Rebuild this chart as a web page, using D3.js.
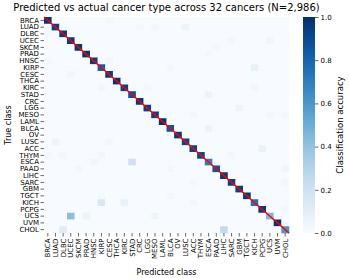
<!DOCTYPE html>
<html><head><meta charset="utf-8">
<script src="https://cdn.jsdelivr.net/npm/d3@7"></script>
<style>body{margin:0;background:#fff}svg{display:block}text{font-family:"DejaVu Sans",sans-serif;fill:#000}</style>
</head><body>
<svg id="c" width="349" height="278"></svg>
<script>
const classes = ["BRCA","LUAD","DLBC","UCEC","SKCM","PRAD","HNSC","KIRP","CESC","THCA","KIRC","STAD","CRC","LGG","MESO","LAML","BLCA","OV","LUSC","ACC","THYM","ESCA","PAAD","LIHC","SARC","GBM","TGCT","KICH","PCPG","UCS","UVM","CHOL"];
// diagonal accuracy per true class
const diagonal = [0.98,0.93,0.96,0.95,0.97,0.99,0.95,0.82,0.95,0.99,0.94,0.88,0.97,0.94,0.93,1.00,0.86,0.97,0.92,0.93,0.90,0.70,0.86,0.97,0.94,0.95,0.97,0.74,0.97,0.45,1.00,0.60];
// off-diagonal confusions: [trueIndex, predIndex, fraction]
const offDiagonal = [
 [0,8,0.02],[1,12,0.02],[1,14,0.03],[1,18,0.05],[2,0,0.02],[3,24,0.03],[3,29,0.04],
 [4,22,0.02],[5,21,0.02],[6,0,0.02],[6,8,0.03],[7,16,0.02],[7,27,0.08],[8,3,0.03],
 [10,7,0.03],[10,13,0.02],[10,27,0.03],[11,21,0.06],[13,25,0.05],[14,19,0.02],[14,29,0.03],[14,31,0.03],
 [16,21,0.06],[18,1,0.05],[18,8,0.03],[19,28,0.07],[20,0,0.03],[20,2,0.03],[20,7,0.03],[20,24,0.03],
 [21,6,0.04],[21,11,0.20],[22,4,0.02],[22,16,0.02],[22,31,0.04],[24,19,0.02],[24,31,0.03],
 [26,7,0.02],[26,16,0.02],[27,7,0.15],[27,10,0.07],[27,19,0.02],[28,31,0.03],
 [29,3,0.42],[29,5,0.06],[29,14,0.05],[31,2,0.12],[31,23,0.25]
];
const cbTicks = [0.0,0.2,0.4,0.6,0.8,1.0];

const n = classes.length;
const cells = [];
for (let r = 0; r < n; r++) for (let c = 0; c < n; c++) cells.push({r, c, v: r === c ? diagonal[r] : 0});
offDiagonal.forEach(([r,c,v]) => { cells[r*n+c].v = v; });

const svg = d3.select("#c");
const L = 44, R = 289, T = 17, B = 233;
const x = d3.scaleBand().domain(d3.range(n)).range([L, R]);
const y = d3.scaleBand().domain(d3.range(n)).range([T, B]);
const color = d3.scaleSequential(d3.interpolateBlues).domain([0, 1]);

svg.append("g").selectAll("rect").data(cells).join("rect")
  .attr("x", d => x(d.c)).attr("y", d => y(d.r))
  .attr("width", x.bandwidth() + 0.3).attr("height", y.bandwidth() + 0.3)
  .attr("fill", d => color(d.v));

const lineScaleX = d3.scaleLinear().domain([0, n]).range([L, R]);
const lineScaleY = d3.scaleLinear().domain([0, n]).range([T, B]);
svg.append("line").attr("x1", lineScaleX(0)).attr("y1", lineScaleY(0))
  .attr("x2", lineScaleX(n)).attr("y2", lineScaleY(n))
  .attr("stroke", "#ff0000").attr("stroke-width", 1.5);

const yAxis = d3.axisLeft(y).tickFormat(i => classes[i]).tickSize(3.5).tickPadding(1.5);
const gy = svg.append("g").attr("transform", `translate(${L},0)`).call(yAxis);
gy.select(".domain").remove();
gy.selectAll("text").style("font-size", "7px").style("font-family", "DejaVu Sans");
gy.selectAll("line").attr("stroke", "#000").attr("stroke-width", 0.6);

const xAxis = d3.axisBottom(x).tickFormat(i => classes[i]).tickSize(3.5).tickPadding(1.5);
const gx = svg.append("g").attr("transform", `translate(0,${B})`).call(xAxis);
gx.select(".domain").remove();
gx.selectAll("line").attr("stroke", "#000").attr("stroke-width", 0.6);
gx.selectAll("text").style("font-size", "7px").style("font-family", "DejaVu Sans")
  .attr("transform", "rotate(-90)").attr("text-anchor", "end")
  .attr("x", -5.5).attr("y", 0).attr("dy", "0.35em");

svg.append("text").attr("x", (L+R)/2).attr("y", 10.5).attr("text-anchor", "middle")
  .style("font-size", "10px").text("Predicted vs actual cancer type across 32 cancers (N=2,986)");
svg.append("text").attr("x", (L+R)/2).attr("y", 275).attr("text-anchor", "middle")
  .style("font-size", "8px").text("Predicted class");
svg.append("text").attr("transform", `translate(10.5,${(T+B)/2}) rotate(-90)`).attr("text-anchor", "middle")
  .style("font-size", "8px").text("True class");

// colorbar
const cbX = 303, cbW = 12;
const defs = svg.append("defs");
const grad = defs.append("linearGradient").attr("id", "cbg").attr("x1", 0).attr("y1", 1).attr("x2", 0).attr("y2", 0);
d3.range(0, 1.0001, 0.05).forEach(t => grad.append("stop").attr("offset", t).attr("stop-color", color(t)));
svg.append("rect").attr("x", cbX).attr("y", T).attr("width", cbW).attr("height", B - T).attr("fill", "url(#cbg)");
const cbScale = d3.scaleLinear().domain([0, 1]).range([B, T]);
const gc = svg.append("g").attr("transform", `translate(${cbX + cbW},0)`)
  .call(d3.axisRight(cbScale).tickValues(cbTicks).tickFormat(d3.format(".1f")).tickSize(3.5).tickPadding(2));
gc.select(".domain").remove();
gc.selectAll("line").attr("stroke", "#000").attr("stroke-width", 0.6);
gc.selectAll("text").style("font-size", "7px").style("font-family", "DejaVu Sans");
svg.append("text").attr("transform", `translate(343,${(T+B)/2}) rotate(-90)`).attr("text-anchor", "middle")
  .style("font-size", "8.5px").text("Classification accuracy");
</script>
</body></html>
